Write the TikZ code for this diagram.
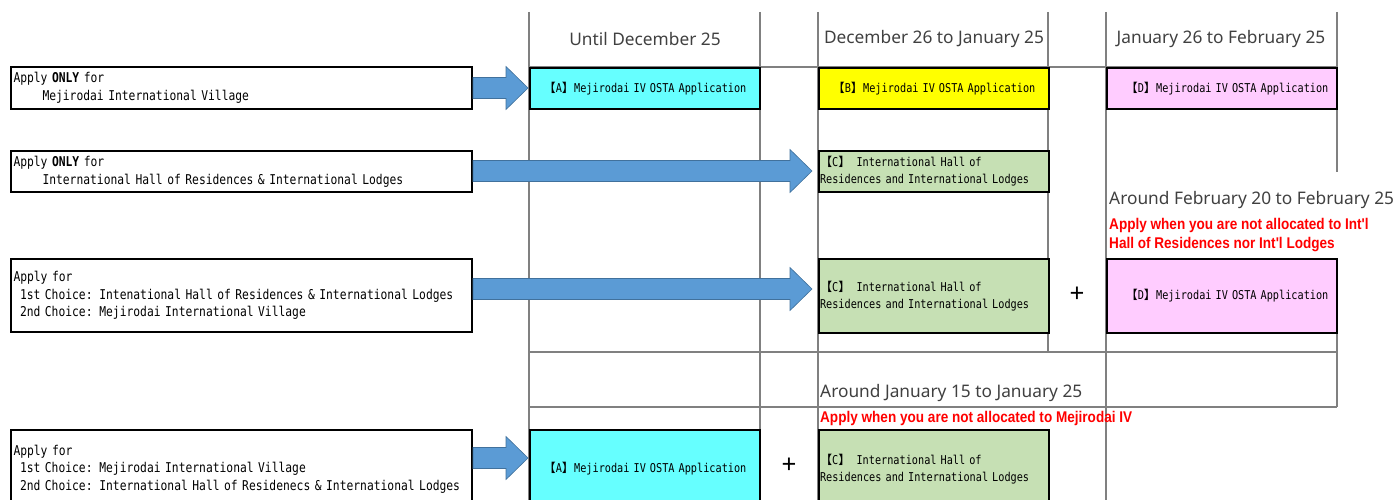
\documentclass[tikz,border=0pt]{standalone}
\usepackage{fontspec}
\setmainfont{Noto Sans}
\newfontfamily\gothic[FakeStretch=0.838]{DejaVu Sans Mono}
\newfontfamily\cjk{Noto Sans CJK JP}
\newfontfamily\hdr{Noto Sans}
\newfontfamily\redf[FakeStretch=0.875]{Liberation Sans}
\usetikzlibrary{calc}
\definecolor{gridgray}{HTML}{808080}
\definecolor{arrowblue}{HTML}{5B9BD5}
\definecolor{arrowedge}{HTML}{41719C}
\definecolor{boxcyan}{HTML}{66FFFF}
\definecolor{boxyellow}{HTML}{FFFF00}
\definecolor{boxgreen}{HTML}{C6E0B4}
\definecolor{boxpink}{HTML}{FFCCFF}
\definecolor{redtext}{HTML}{FF0000}
\definecolor{hdrtext}{HTML}{404040}
\newcommand\lbr[1]{{\cjk 【}#1{\cjk 】}}
\newcommand\gapamount{0pt}
\newcommand\blockarrow[3]{% from node, to node, y level
  \path let \p1=(#1.east), \p2=(#2.west) in
    [fill=arrowblue, draw=arrowedge, line width=0.6pt]
    (\x1, #3-10.5) -- (\x2-22-\gapamount, #3-10.5) -- (\x2-22-\gapamount, #3-21.5)
    -- (\x2-\gapamount, #3) -- (\x2-22-\gapamount, #3+21.5) -- (\x2-22-\gapamount, #3+10.5)
    -- (\x1, #3+10.5) -- cycle;}
\tikzset{
  leftbox/.style={draw=black, line width=2pt, fill=white, anchor=north west, inner xsep=2.5pt, inner ysep=0pt,
    minimum width=461pt, text width=456pt, align=left, font=\gothic\fontsize{13.5}{17.6}\selectfont},
  appbox/.style={draw=black, line width=2pt, anchor=north west, inner sep=0pt,
    minimum width=230pt, text width=228pt, font=\gothic\fontsize{12.2}{17}\selectfont},
  header/.style={anchor=center, inner sep=0pt, text=hdrtext, font=\hdr\fontsize{17.3}{20}\selectfont},
  subheader/.style={anchor=west, inner sep=0pt, text=hdrtext, font=\hdr\fontsize{17.3}{20}\selectfont},
  redlabel/.style={anchor=west, inner sep=0pt, text=redtext, font=\redf\bfseries\fontsize{15.5}{18}\selectfont},
  plussign/.style={anchor=center, inner sep=0pt, font=\fontsize{26}{26}\selectfont},
  gridline/.style={draw=gridgray, line width=1.6pt}
}
\begin{document}
\begin{tikzpicture}[x=1pt, y=-1pt]
\useasboundingbox (0,0) rectangle (1393,500);
\clip (0,0) rectangle (1393,500);
% grid
\draw[gridline] (529,12) -- (529,500);
\draw[gridline] (760,12) -- (760,500);
\draw[gridline] (818,12) -- (818,500);
\draw[gridline] (1048,12) -- (1048,352);
\draw[gridline] (1106,12) -- (1106,500);
\draw[gridline] (1337,12) -- (1337,172);
\draw[gridline] (1337,258) -- (1337,407);
\draw[gridline] (529,67) -- (1337,67);
\draw[gridline] (529,352) -- (1337,352);
\draw[gridline] (529,407) -- (1337,407);
% headers
\node[header] (h1) at (645,39) {Until December 25};
\node[header] (h2) at (934,39) {December 26 to January 25};
\node[header] (h3) at (1221,39) {January 26 to February 25};
\node[subheader] (h4) at (1109,200) {Around February 20 to February 25};
\node[redlabel] (r1) at (1109,225) {Apply when you are not allocated to Int'l};
\node[redlabel] (r2) at (1109,245) {Hall of Residences nor Int'l Lodges};
\node[subheader] (h5) at (820,393) {Around January 15 to January 25};
\node[redlabel] (r3) at (820,418) {Apply when you are not allocated to Mejirodai IV};
% left boxes
\node[leftbox, minimum height=42pt] (l1) at (10,66) {Apply {\bfseries ONLY} for\\\hspace*{29pt}Mejirodai International Village};
\node[leftbox, minimum height=41pt] (l2) at (10,150) {Apply {\bfseries ONLY} for\\\hspace*{29pt}International Hall of Residences \& International Lodges};
\node[leftbox, minimum height=73pt] (l3) at (10,258) {Apply for\\\hspace*{6.5pt}1st Choice: Intenational Hall of Residences \& International Lodges\\\hspace*{6.5pt}2nd Choice: Mejirodai International Village};
\node[leftbox, minimum height=78pt] (l4) at (10,429) {Apply for\\\hspace*{6.5pt}1st Choice: Mejirodai International Village\\\hspace*{6.5pt}2nd Choice: International Hall of Residenecs \& International Lodges};
% application boxes
\node[appbox, fill=boxcyan, minimum height=41pt, align=center] (a1) at (529,67) {\lbr{A}Mejirodai IV OSTA Application};
\node[appbox, fill=boxyellow, minimum height=41pt, align=center] (b1) at (818,67) {\lbr{B}Mejirodai IV OSTA Application};
\node[appbox, fill=boxpink, minimum height=41pt, align=center] (d1) at (1106,67) {\hspace*{10pt}\lbr{D}Mejirodai IV OSTA Application};
\node[appbox, fill=boxgreen, minimum height=41pt, align=left] (c2) at (818,150) {\lbr{C}\hspace*{6pt}International Hall of\\Residences and International Lodges};
\node[appbox, fill=boxgreen, minimum height=74pt, align=left] (c3) at (818,258) {\lbr{C}\hspace*{6pt}International Hall of\\Residences and International Lodges};
\node[appbox, fill=boxpink, minimum height=74pt, align=center] (d3) at (1106,258) {\hspace*{10pt}\lbr{D}Mejirodai IV OSTA Application};
\node[appbox, fill=boxcyan, minimum height=78pt, align=center] (a4) at (529,429) {\lbr{A}Mejirodai IV OSTA Application};
\node[appbox, fill=boxgreen, minimum height=78pt, align=left] (c4) at (818,429) {\lbr{C}\hspace*{6pt}International Hall of\\Residences and International Lodges};
% plus signs
\node[plussign] (p3) at (1077,295) {+};
\node[plussign] (p4) at (789,466) {+};
% arrows
\renewcommand\gapamount{1pt}
\blockarrow{l1}{a1}{88}
\blockarrow{l4}{a4}{458}
\renewcommand\gapamount{6pt}
\blockarrow{l2}{c2}{171}
\blockarrow{l3}{c3}{289}
\end{tikzpicture}
\end{document}
